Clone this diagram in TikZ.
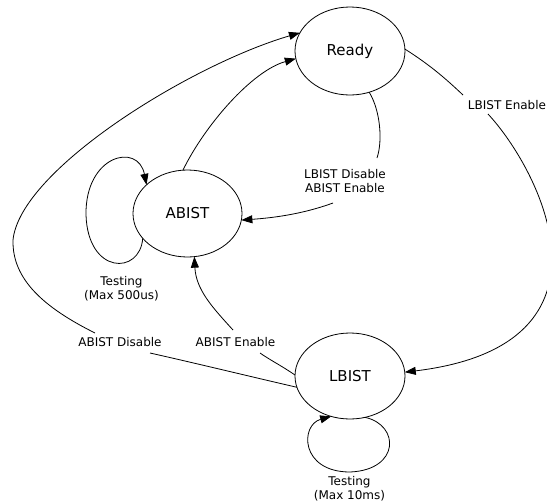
\documentclass[tikz,border=0pt]{standalone}
\usepackage{fontspec}
\setmainfont{DejaVu Sans}
\usetikzlibrary{shapes.geometric,arrows.meta}
\begin{document}
\begin{tikzpicture}[x=1pt,y=-1pt,
  state/.style={draw, ellipse, line width=0.8pt, inner sep=0pt, outer sep=0pt,
    font=\fontsize{15}{18}\selectfont},
  lbl/.style={inner sep=0pt, align=center, font=\fontsize{12}{14}\selectfont},
  wire/.style={line width=0.8pt},
  arr/.style={wire, -{Triangle[length=11pt,width=8pt]}}]
\useasboundingbox (0,0) rectangle (547,504);

% states
\node[state, minimum width=110pt, minimum height=88pt] (ready) at (350,51) {Ready};
\node[state, minimum width=109pt, minimum height=87pt] (abist) at (187.5,213.5) {ABIST};
\node[state, minimum width=110pt, minimum height=86pt] (lbist) at (350,376) {LBIST};

% transition labels
\node[lbl] (lblLE) at (507,105) {LBIST Enable};
\node[lbl] (lblLD) at (345,181) {LBIST Disable\\ABIST Enable};
\node[lbl] (lblAD) at (120,342) {ABIST Disable};
\node[lbl] (lblAE) at (235.5,342) {ABIST Enable};
\node[lbl] (lblT1) at (121.5,288.5) {Testing\\(Max 500us)};
\node[lbl] (lblT2) at (349.5,488.5) {Testing\\(Max 10ms)};

% ABIST -> Ready
\draw[arr] (abist.96) .. controls (205,125) and (252,71) .. (ready.188);

% LBIST -> Ready (ABIST Disable)
\draw[wire] (lbist.192) .. controls (248,376) and (199,364) .. ([xshift=30pt,yshift=-11pt]lblAD.center);
\draw[arr] ([xshift=-25pt,yshift=9pt]lblAD.center) .. controls (45,308) and (12,280) .. (13,240)
  .. controls (20,170) and (190,65) .. (ready.160);

% Ready -> ABIST (LBIST Disable / ABIST Enable)
\draw[wire] (ready.295) .. controls (380,110) and (383,140) .. ([xshift=32pt,yshift=23pt]lblLD.center);
\draw[arr] ([xshift=-12pt,yshift=-22pt]lblLD.center) .. controls (300,215) and (270,218) .. (abist.353);

% Ready -> LBIST (LBIST Enable)
\draw[wire] (ready.2) .. controls (430,65) and (445,78) .. ([xshift=-44pt,yshift=10pt]lblLE.center);
\draw[arr] ([xshift=-19pt,yshift=-9pt]lblLE.center) .. controls (540,170) and (630,345) .. (lbist.4);

% LBIST -> ABIST (ABIST Enable)
\draw[wire] (lbist.179) .. controls (282,366) and (270,360) .. ([xshift=24.5pt,yshift=-11pt]lblAE.center);
\draw[arr] ([xshift=-2.5pt,yshift=12pt]lblAE.center) .. controls (213,308) and (196,290) .. (abist.279);

% self loops
\draw[arr] (abist.209) .. controls (140,275) and (88,275) .. (86,215)
  .. controls (85,155) and (138,142) .. (abist.145);
\draw[arr] (lbist.290) .. controls (400,425) and (400,470) .. (350,472)
  .. controls (300,472) and (300,425) .. (lbist.245);
\end{tikzpicture}
\end{document}
